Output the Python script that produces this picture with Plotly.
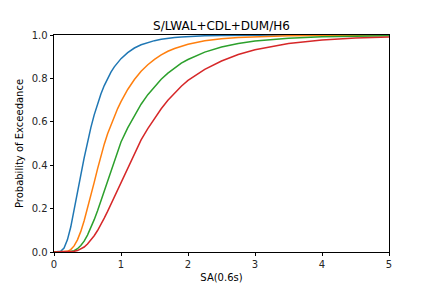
import plotly.graph_objects as go

sa = [0, 0.05, 0.1, 0.15, 0.2, 0.25, 0.3, 0.35, 0.4, 0.45, 0.5, 0.55, 0.6, 0.65,
      0.7, 0.75, 0.8, 0.85, 0.9, 0.95, 1.0, 1.1, 1.2, 1.3, 1.4, 1.5, 1.6, 1.7,
      1.8, 1.9, 2.0, 2.25, 2.5, 2.75, 3.0, 3.5, 4.0, 4.5, 5.0]

p_blue = [0, 0, 0.003, 0.018, 0.056, 0.115, 0.19, 0.272, 0.354, 0.434, 0.507,
          0.573, 0.632, 0.684, 0.728, 0.767, 0.80, 0.829, 0.853, 0.873, 0.891,
          0.919, 0.94, 0.955, 0.966, 0.974, 0.98, 0.985, 0.988, 0.991, 0.993,
          0.996, 0.998, 0.999, 0.999, 1.0, 1.0, 1.0, 1.0]
p_orange = [0, 0, 0, 0.0004, 0.003, 0.011, 0.028, 0.056, 0.095, 0.144, 0.199,
            0.259, 0.321, 0.383, 0.443, 0.497, 0.545, 0.587, 0.625, 0.661, 0.693,
            0.749, 0.795, 0.833, 0.863, 0.888, 0.908, 0.925, 0.938, 0.949, 0.957,
            0.973, 0.983, 0.989, 0.9925, 0.9965, 0.998, 0.999, 1.0]
p_green = [0, 0, 0, 0, 0, 0.002, 0.006, 0.015, 0.03, 0.05, 0.078, 0.11, 0.149,
           0.19, 0.235, 0.282, 0.329, 0.375, 0.421, 0.466, 0.507, 0.572, 0.63,
           0.681, 0.725, 0.763, 0.796, 0.824, 0.849, 0.870, 0.887, 0.921, 0.945,
           0.961, 0.972, 0.985, 0.992, 0.9955, 0.997]
p_red = [0, 0, 0, 0, 0, 0, 0.003, 0.0066, 0.013, 0.023, 0.037, 0.054, 0.075,
         0.099, 0.126, 0.156, 0.187, 0.22, 0.254, 0.288, 0.323, 0.391, 0.457,
         0.517, 0.569, 0.617, 0.66, 0.699, 0.733, 0.764, 0.791, 0.842, 0.88,
         0.91, 0.932, 0.961, 0.977, 0.986, 0.991]

series = [("blue", p_blue, "#1f77b4"), ("orange", p_orange, "#ff7f0e"),
          ("green", p_green, "#2ca02c"), ("red", p_red, "#d62728")]

fig = go.Figure()
for name, vals, col in series:
    fig.add_trace(go.Scatter(x=sa, y=vals, mode="lines", name=name,
                             line=dict(color=col, width=1.5), cliponaxis=False,
                             showlegend=False))

font = "DejaVu Sans"
axis_common = dict(showline=True, linecolor="black", linewidth=0.8, mirror=True,
                   ticks="outside", ticklen=3.5, tickwidth=0.8, tickcolor="black",
                   showgrid=False, zeroline=False, automargin=False,
                   tickfont=dict(family=font, size=10, color="#262626"))

fig.update_layout(
    width=432, height=288,
    margin=dict(l=54, r=43, t=35, b=36),
    paper_bgcolor="white", plot_bgcolor="white",
    title=dict(text="S/LWAL+CDL+DUM/H6", x=0.5, xref="paper", xanchor="center",
               y=1, yref="paper", yanchor="bottom", pad=dict(b=5),
               font=dict(family=font, size=12, color="black")),
    xaxis=dict(range=[0, 5], tickvals=[0, 1, 2, 3, 4, 5],
               title=dict(text="SA(0.6s)", standoff=4,
                          font=dict(family=font, size=10, color="black")),
               **axis_common),
    yaxis=dict(range=[0, 1], tickvals=[0, 0.2, 0.4, 0.6, 0.8, 1.0], tickformat=".1f",
               title=dict(text="Probability of Exceedance", standoff=6,
                          font=dict(family=font, size=10, color="black")),
               **axis_common),
)

fig.write_html("out.html")
